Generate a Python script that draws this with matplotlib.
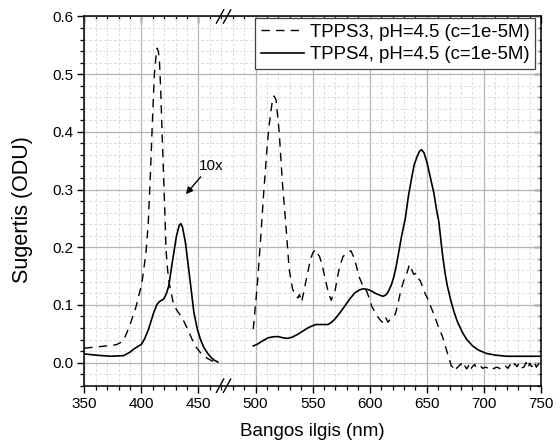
import matplotlib
matplotlib.use("Agg")
import matplotlib.pyplot as plt
from matplotlib.ticker import MultipleLocator
from matplotlib.transforms import ScaledTranslation
import numpy as np

plt.rcParams['font.family'] = ['Liberation Sans', 'DejaVu Sans']

# ---- data ----
tpps3_x1 = [350, 360, 370, 378, 383, 386, 390, 395.5, 400.5, 404, 406, 408, 409.5, 411.4, 413, 413.8,
            414.8, 415.8, 417, 418.1, 419.5, 420.8, 421.6, 423, 424.8, 428.3, 432, 435.7, 440, 444.5,
            448, 451.8, 455, 459, 463, 467]
tpps3_y1 = [0.025, 0.027, 0.029, 0.031, 0.036, 0.046, 0.065, 0.098, 0.138, 0.19, 0.24, 0.33, 0.41, 0.50, 0.535, 0.545,
            0.54, 0.525, 0.47, 0.40, 0.32, 0.25, 0.196, 0.16, 0.133, 0.10, 0.088, 0.078, 0.06, 0.04,
            0.027, 0.017, 0.011, 0.006, 0.002, 0.0]

tpps4_x1 = [350, 360, 372.6, 384.3, 390, 393, 400.2, 403, 406.3, 408.5, 410.7, 413.7, 416, 419.5, 422, 424,
            427, 430.7, 433, 434.5, 436, 438.6, 442.2, 446, 449, 451.8, 454.5, 457.7, 461, 464, 467]
tpps4_y1 = [0.015, 0.013, 0.011, 0.012, 0.018, 0.023, 0.032, 0.042, 0.058, 0.072, 0.086, 0.101, 0.106, 0.11, 0.12, 0.133,
            0.173, 0.219, 0.237, 0.241, 0.235, 0.208, 0.15, 0.087, 0.058, 0.04, 0.027, 0.017, 0.009, 0.004, 0.001]

tpps3_x2 = [498, 501.5, 504.4, 507, 510, 511.8, 514.8, 516.3, 518, 520.7, 523.6, 526.5, 529.5, 532.5, 535, 537,
            538.5, 540.4, 543, 545.7, 548, 550.1, 552.5, 554, 556, 558, 560.5, 563, 564.9, 566.3, 567.8,
            569.3, 571.5, 573.7, 576.7, 580, 583.5, 586, 588.4, 590.5, 592.9, 595, 597.3, 599.5, 601.7,
            604.5, 607.6, 610, 612, 614, 616, 618, 620, 622.4, 624.5, 626.8, 629.5, 632.7, 634.5, 635.6,
            637, 638.6, 641, 643, 644.5, 646.5, 648.9, 651, 653.3, 655.5, 657.8, 660.5, 663.6, 666, 668,
            670, 671.5, 673, 675, 676, 678, 680, 681, 683, 685, 687, 688, 690, 692, 693, 695, 697, 699,
            701, 703, 705, 707, 709, 711, 713, 715, 717, 719, 721, 723, 725, 727, 729, 731, 733, 735,
            737, 739, 740, 742, 744, 746, 748, 750]
tpps3_y2 = [0.058, 0.133, 0.213, 0.29, 0.37, 0.41, 0.455, 0.462, 0.455, 0.40, 0.31, 0.24, 0.161, 0.127, 0.118, 0.112,
            0.118, 0.105, 0.13, 0.156, 0.178, 0.19, 0.196, 0.19, 0.184, 0.172, 0.15, 0.128, 0.115, 0.108, 0.117,
            0.121, 0.145, 0.167, 0.184, 0.19, 0.194, 0.183, 0.167, 0.15, 0.138, 0.13, 0.124, 0.112, 0.098,
            0.088, 0.078, 0.072, 0.069, 0.078, 0.07, 0.075, 0.078, 0.084, 0.1, 0.121, 0.14, 0.156, 0.168, 0.170,
            0.16, 0.153, 0.155, 0.145, 0.141, 0.13, 0.118, 0.11, 0.098, 0.087, 0.075, 0.06, 0.046, 0.03, 0.017,
            0.004, -0.006, -0.008, -0.004, -0.01, -0.006, -0.002, -0.009, -0.005, -0.011, -0.004, -0.012, -0.007,
            -0.003, -0.009, -0.008, -0.006, -0.01,
            -0.008, -0.009, -0.007, -0.011, -0.01, -0.008, -0.009, -0.012, -0.009, -0.006, -0.01, -0.004,
            -0.009, -0.002, -0.007, -0.001, -0.009, -0.008,
            0.0, -0.009, -0.001, -0.007, 0.001, -0.008, -0.002, -0.004]

tpps4_x2 = [498, 500.9, 504, 507.4, 511, 516.3, 520, 524, 528, 532, 536.9, 541, 545.7, 550, 553, 558, 563.4,
            566, 569.3, 573, 578.2, 582, 587, 591, 594.4, 598, 601.7, 605, 607.6, 610, 612, 614.5, 616.5,
            619, 620.9, 623, 625.3, 628, 631.2, 634, 637, 639, 641.5, 643.5, 645.3, 647.5, 650.3, 653,
            656.2, 658.5, 660.5, 663.6, 666, 668, 671, 674, 677, 681.3, 685, 690.1, 695, 702, 710, 719.7,
            735, 750]
tpps4_y2 = [0.029, 0.031, 0.035, 0.039, 0.043, 0.045, 0.045, 0.043, 0.042, 0.044, 0.049, 0.054, 0.06, 0.064, 0.066,
            0.066, 0.066, 0.069, 0.075, 0.084, 0.098, 0.109, 0.121, 0.126, 0.128, 0.127, 0.124, 0.12, 0.118,
            0.116, 0.115, 0.118, 0.124, 0.135, 0.147, 0.165, 0.19, 0.22, 0.25, 0.29, 0.323, 0.343, 0.357,
            0.366, 0.369, 0.364, 0.346, 0.322, 0.294, 0.265, 0.245, 0.19, 0.155, 0.133, 0.108, 0.087, 0.07,
            0.052, 0.04, 0.029, 0.022, 0.016, 0.013, 0.011, 0.011, 0.011]

labels = ["TPPS3, pH=4.5 (c=1e-5M)", "TPPS4, pH=4.5 (c=1e-5M)"]
x_label = "Bangos ilgis (nm)"
y_label = "Sugertis (ODU)"
annot_text = "10x"
break_at = 472

# ---- figure ----
fig = plt.figure(figsize=(5.6, 4.45), dpi=100)
ax = fig.add_axes([0.1505, 0.1333, 0.8155, 0.8297])

dash = (6, 4.5)
l1, = ax.plot(tpps3_x1, tpps3_y1, color='black', lw=1.0, dashes=dash)
ax.plot(tpps3_x2, tpps3_y2, color='black', lw=1.0, dashes=dash)
l2, = ax.plot(tpps4_x1, tpps4_y1, color='black', lw=1.2)
ax.plot(tpps4_x2, tpps4_y2, color='black', lw=1.2)

ax.set_xlim(350, 750)
ax.set_ylim(-0.04, 0.6)
ax.xaxis.set_major_locator(MultipleLocator(50))
ax.xaxis.set_minor_locator(MultipleLocator(10))
ax.yaxis.set_major_locator(MultipleLocator(0.1))
ax.yaxis.set_minor_locator(MultipleLocator(0.02))
ax.yaxis.set_major_formatter(matplotlib.ticker.FormatStrFormatter('%.1f'))

ax.grid(which='major', color='#b4b4b4', lw=0.9, ls='-')
ax.grid(which='minor', color='#dcdcdc', lw=0.7, ls=(0, (3, 2)))
ax.set_axisbelow(True)

for s in ax.spines.values():
    s.set_linewidth(1.1)

ax.tick_params(which='major', direction='out', length=5, width=1.0, labelsize=11, pad=3,
               top=False, right=False)
ax.tick_params(which='minor', direction='out', length=3, width=0.9, top=False, right=False)

secx = ax.secondary_xaxis('top')
secx.xaxis.set_major_locator(MultipleLocator(50))
secx.xaxis.set_minor_locator(MultipleLocator(10))
secx.tick_params(which='major', direction='in', length=5, width=1.0, labeltop=False)
secx.tick_params(which='minor', direction='in', length=3, width=0.9)
secy = ax.secondary_yaxis('right')
secy.yaxis.set_major_locator(MultipleLocator(0.1))
secy.yaxis.set_minor_locator(MultipleLocator(0.02))
secy.tick_params(which='major', direction='in', length=5, width=1.0, labelright=False)
secy.tick_params(which='minor', direction='in', length=3, width=0.9)
for sa in (secx, secy):
    for s in sa.spines.values():
        s.set_visible(False)

ax.set_xlabel(x_label, fontsize=13.5, labelpad=9)
ax.set_ylabel(y_label, fontsize=15.5)
ax.yaxis.set_label_coords(-0.112, 0.478)

leg = ax.legend([l1, l2], labels, loc='upper right', bbox_to_anchor=(0.987, 0.996),
                fontsize=13.4, handlelength=2.3, handletextpad=0.32, borderaxespad=0.0,
                borderpad=0.3, labelspacing=0.3,
                fancybox=False, framealpha=1, edgecolor='#404040')
leg.get_frame().set_linewidth(0.9)

ax.text(461, 0.341, annot_text, fontsize=11, ha='center', va='center')
ax.annotate('', xy=(439, 0.292), xytext=(452, 0.322),
            arrowprops=dict(arrowstyle='-|>', color='black', lw=1.0, mutation_scale=10,
                            shrinkA=0, shrinkB=0))

# axis break marks
xa = (break_at - 350) / 400.0
for ya in (0.0, 1.0):
    for off in (-3.5, 3.5):
        tr = ax.transAxes + ScaledTranslation(off / 100.0, 0, fig.dpi_scale_trans)
        ax.plot([xa - 0.008, xa + 0.008], [ya - 0.018, ya + 0.018], transform=tr,
                color='black', lw=1.0, clip_on=False)

fig.savefig('out.png', dpi=100)
